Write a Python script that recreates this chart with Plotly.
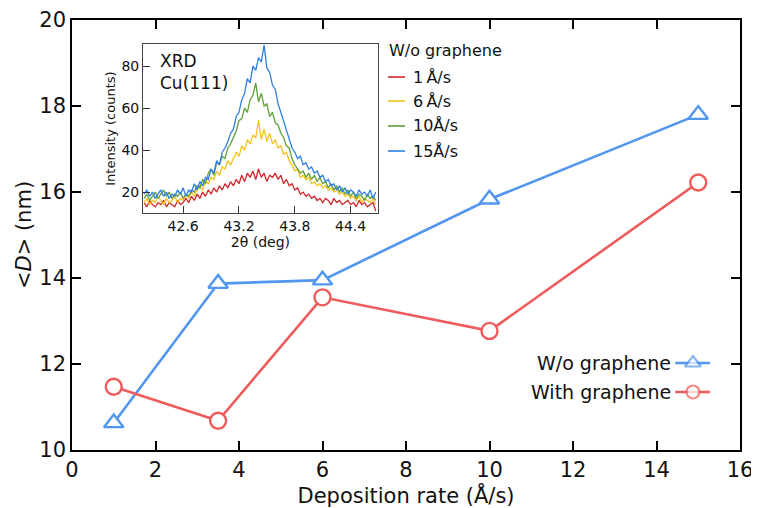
import plotly.graph_objects as go

# ---------------- main data ----------------
rate = [1, 3.5, 6, 10, 15]
d_without = [10.63, 13.87, 13.95, 15.83, 17.80]
d_with = [11.47, 10.68, 13.55, 12.77, 16.22]

# ---------------- inset XRD data ----------------
two_theta = [42.18, 42.21, 42.24, 42.27, 42.30, 42.33, 42.36, 42.39, 42.42, 42.45,
             42.48, 42.51, 42.54, 42.57, 42.60, 42.63, 42.66, 42.69, 42.72, 42.75,
             42.78, 42.81, 42.84, 42.87, 42.90, 42.93, 42.96, 42.99, 43.02, 43.05,
             43.08, 43.11, 43.14, 43.17, 43.20, 43.23, 43.26, 43.29, 43.32, 43.35,
             43.38, 43.41, 43.44, 43.47, 43.50, 43.53, 43.56, 43.59, 43.62, 43.65,
             43.68, 43.71, 43.74, 43.77, 43.80, 43.83, 43.86, 43.89, 43.92, 43.95,
             43.98, 44.01, 44.04, 44.07, 44.10, 44.13, 44.16, 44.19, 44.22, 44.25,
             44.28, 44.31, 44.34, 44.37, 44.40, 44.43, 44.46, 44.49, 44.52, 44.55,
             44.58, 44.61, 44.64, 44.67]
xrd_1 = [15, 13, 16, 14, 13, 15, 14, 16, 13, 15, 14, 13, 16, 14, 15, 17, 15, 18, 16, 19,
         17, 20, 18, 21, 19, 22, 20, 23, 21, 24, 22, 25, 23, 26, 24, 28, 25, 29, 27, 30,
         26, 31, 27, 29, 25, 28, 27, 29, 26, 28, 24, 26, 23, 24, 21, 22, 19, 20, 18, 19,
         17, 18, 16, 17, 15, 17, 16, 14, 17, 15, 16, 14, 15, 16, 14, 15, 13, 16, 14, 15,
         13, 14, 15, 11]
xrd_6 = [15, 17, 14, 16, 15, 18, 16, 14, 17, 15, 16, 18, 15, 17, 16, 19, 17, 20, 18, 21,
         23, 21, 25, 24, 27, 26, 30, 28, 32, 31, 35, 33, 36, 39, 37, 42, 40, 45, 43, 47,
         46, 54, 45, 50, 44, 48, 43, 45, 41, 42, 38, 39, 35, 33, 30, 31, 27, 28, 26, 27,
         24, 25, 23, 24, 22, 23, 21, 22, 20, 21, 19, 20, 18, 19, 17, 18, 16, 18, 15, 17,
         16, 15, 17, 14]
xrd_10 = [17, 19, 16, 18, 20, 17, 19, 21, 18, 20, 17, 19, 18, 20, 17, 19, 18, 21, 20, 23,
          22, 26, 24, 29, 31, 28, 34, 33, 37, 36, 41, 43, 46, 49, 54, 55, 60, 58, 64, 66,
          72, 63, 67, 61, 62, 56, 58, 53, 52, 48, 46, 42, 41, 36, 33, 31, 29, 30, 27, 29,
          26, 28, 25, 27, 24, 25, 22, 24, 21, 23, 20, 22, 19, 21, 18, 20, 17, 19, 18, 16,
          19, 17, 18, 16]
xrd_15 = [19, 21, 18, 20, 17, 19, 21, 18, 20, 17, 19, 18, 21, 19, 22, 18, 21, 20, 24, 21,
          25, 23, 27, 26, 31, 29, 35, 33, 39, 41, 44, 48, 50, 56, 58, 64, 67, 74, 72, 80,
          78, 84, 82, 90, 79, 77, 71, 69, 62, 58, 54, 49, 45, 41, 39, 36, 37, 33, 34, 31,
          32, 29, 30, 27, 28, 25, 26, 23, 24, 21, 23, 20, 22, 19, 21, 20, 18, 21, 19, 20,
          18, 21, 17, 20]
xrd_names = ["1\u2009Å/s", "6\u2009Å/s", "10Å/s", "15Å/s"]
xrd_colors = ["#d2262b", "#f6c21c", "#5f9f38", "#2e7fe4"]
inset_legend_title = "W/o graphene"
main_names = ["W/o graphene", "With graphene"]

BLUE = "#5196ef"
RED = "#ef5a5a"
FONT = "DejaVu Sans"

fig = go.Figure()

# main series
fig.add_trace(go.Scatter(x=rate, y=d_without, mode="lines+markers", showlegend=False,
                         line=dict(color=BLUE, width=2.6),
                         marker=dict(symbol="triangle-up", size=17, color="white",
                                     line=dict(color=BLUE, width=2.4))))
fig.add_trace(go.Scatter(x=rate, y=d_with, mode="lines+markers", showlegend=False,
                         line=dict(color=RED, width=2.6),
                         marker=dict(symbol="circle", size=16, color="white",
                                     line=dict(color=RED, width=2.4))))

# inset series
for ys, nm, col in zip([xrd_1, xrd_6, xrd_10, xrd_15], xrd_names, xrd_colors):
    fig.add_trace(go.Scatter(x=two_theta, y=ys, mode="lines", name=nm, showlegend=False,
                             line=dict(color=col, width=1.3),
                             xaxis="x2", yaxis="y2"))

# manual legend glyphs for main plot (symbol on the right of text)
fig.add_trace(go.Scatter(x=[0.903, 0.9296, 0.955], y=[0.2023, 0.2023, 0.2023],
                         mode="lines+markers", showlegend=False,
                         line=dict(color=BLUE, width=2.6),
                         marker=dict(symbol="triangle-up", size=[0, 14, 0], color="white",
                                     line=dict(color=BLUE, width=2.2)),
                         xaxis="x3", yaxis="y3"))
fig.add_trace(go.Scatter(x=[0.903, 0.9296, 0.955], y=[0.1349, 0.1349, 0.1349],
                         mode="lines+markers", showlegend=False,
                         line=dict(color=RED, width=2.6),
                         marker=dict(symbol="circle", size=[0, 13, 0], color="white",
                                     line=dict(color=RED, width=2.2)),
                         xaxis="x3", yaxis="y3"))

# inset legend (manual)
leg_rows = [0.8674, 0.8116, 0.7535, 0.6953]
shapes = []
annotations = [
    dict(text=inset_legend_title, xref="paper", yref="paper", x=0.471, y=0.928,
         xanchor="left", yanchor="middle", showarrow=False, font=dict(size=16)),
    dict(text="XRD", xref="paper", yref="paper", x=0.129, y=0.905,
         xanchor="left", yanchor="middle", showarrow=False, font=dict(size=17)),
    dict(text="Cu(111)", xref="paper", yref="paper", x=0.129, y=0.853,
         xanchor="left", yanchor="middle", showarrow=False, font=dict(size=17)),
    dict(text=main_names[0], xref="paper", yref="paper", x=0.9, y=0.2023,
         xanchor="right", yanchor="middle", showarrow=False, font=dict(size=19)),
    dict(text=main_names[1], xref="paper", yref="paper", x=0.9, y=0.1349,
         xanchor="right", yanchor="middle", showarrow=False, font=dict(size=19)),
]
for yy, nm, col in zip(leg_rows, xrd_names, xrd_colors):
    shapes.append(dict(type="line", xref="paper", yref="paper", x0=0.473, x1=0.4985,
                       y0=yy, y1=yy, line=dict(color=col, width=1.6)))
    annotations.append(dict(text=nm, xref="paper", yref="paper", x=0.508, y=yy,
                            xanchor="left", yanchor="middle", showarrow=False,
                            font=dict(size=16)))

axis_common = dict(showline=True, linecolor="black", linewidth=1.5, mirror="ticks",
                   ticks="inside", ticklen=9, tickwidth=1.5, tickcolor="black",
                   showgrid=False, zeroline=False, automargin=False)

fig.update_layout(
    width=751, height=500,
    margin=dict(l=64, r=19, t=12, b=58),
    paper_bgcolor="white", plot_bgcolor="white",
    font=dict(family=FONT, color="#111"),
    xaxis=dict(range=[0, 16], dtick=2, tick0=0,
               tickfont=dict(size=21),
               title=dict(text="Deposition rate (Å/s)", font=dict(size=21), standoff=0),
               **axis_common),
    yaxis=dict(range=[10, 20], dtick=2, tick0=10,
               tickfont=dict(size=21),
               title=dict(text="&lt;<i>D</i>&gt; (nm)", font=dict(size=21), standoff=2),
               **axis_common),
    xaxis2=dict(domain=[0.1065, 0.4575], anchor="y2", range=[42.17, 44.69],
                tick0=42.6, dtick=0.6, ticks="inside", ticklen=7, tickwidth=1,
                tickcolor="#333", showline=True, linecolor="#444", linewidth=1.2,
                mirror=True, showgrid=False, zeroline=False, automargin=False,
                tickfont=dict(size=14),
                title=dict(text="2θ (deg)", font=dict(size=14), standoff=2)),
    yaxis2=dict(domain=[0.551, 0.944], anchor="x2", range=[10, 90.5],
                tick0=20, dtick=20, ticks="inside", ticklen=7, tickwidth=1,
                tickcolor="#333", showline=True, linecolor="#444", linewidth=1.2,
                mirror=True, showgrid=False, zeroline=False, automargin=False,
                tickfont=dict(size=14),
                title=dict(text="Intensity (counts)", font=dict(size=13), standoff=2)),
    xaxis3=dict(domain=[0, 1], range=[0, 1], overlaying="x", visible=False),
    yaxis3=dict(domain=[0, 1], range=[0, 1], overlaying="y", visible=False),
    showlegend=False,
    shapes=shapes,
    annotations=annotations,
)

fig.write_html("out.html")
